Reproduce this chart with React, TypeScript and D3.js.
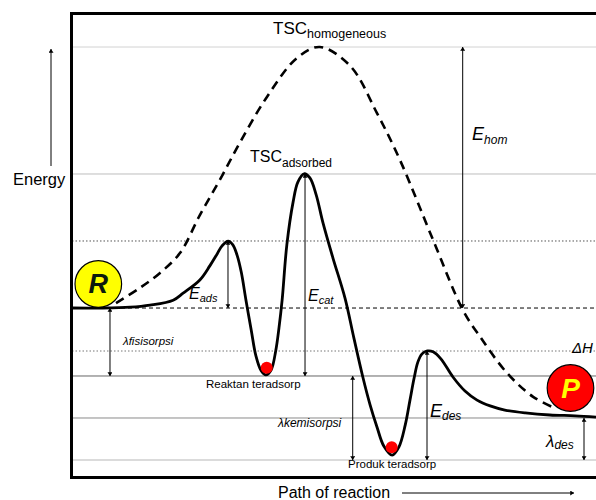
import React from 'react';
import * as d3 from 'd3';

// Reaction progress (0..100) and energy (0..100)
const solidProgress = [0, 5.3, 11.1, 14.9, 19.3, 21.2, 24.4, 26.3, 27.7, 28.6, 29.8, 30.7, 31.5, 32.3, 33.2, 34.2, 35.1, 36.1, 37.0, 38.0, 38.9, 39.5, 40.1, 41.0, 42.2, 43.1, 44.3, 45.4, 46.6, 47.9, 49.8, 52.1, 53.8, 55.5, 56.9, 58.2, 59.5, 61.1, 62.4, 63.6, 64.5, 65.3, 66.0, 66.8, 67.8, 68.9, 70.4, 72.7, 75.0, 77.3, 79.8, 82.6, 86.5, 91.2, 96.0, 100];
const solidEnergy = [36.8, 36.8, 37.0, 37.5, 38.7, 40.4, 43.6, 47.0, 49.9, 51.8, 53.0, 52.1, 49.6, 45.5, 38.7, 31.5, 25.2, 21.6, 20.6, 21.8, 26.6, 32.0, 38.7, 52.1, 62.5, 67.3, 69.3, 68.3, 64.2, 57.4, 48.9, 39.2, 29.5, 20.1, 13.3, 8.0, 3.4, 1.2, 3.2, 8.5, 14.5, 19.9, 23.7, 25.7, 26.4, 26.2, 24.5, 20.1, 16.7, 14.5, 13.1, 12.1, 11.4, 10.9, 10.7, 10.4];

const homProgress = [8.4, 13.0, 16.8, 20.6, 24.4, 28.2, 32.1, 37.2, 42.9, 47.3, 53.1, 58.2, 62.6, 68.9, 74.6, 77.9, 83.0, 88.0, 92.4];
const homEnergy = [38.0, 41.7, 45.3, 50.1, 59.3, 67.8, 77.0, 87.9, 97.3, 100, 95.4, 84.0, 72.6, 53.3, 36.3, 29.8, 21.1, 15.3, 12.4];

const levelNames = ['tscHom', 'tscAds', 'adsPeak', 'reactant', 'deltaH', 'reaktanAds', 'product', 'produkAds'];
const levelEnergy = [100, 69.25, 53.03, 36.8, 26.39, 20.34, 10.17, 0];

const arrowNames = ['Ehom', 'Eads', 'Ecat', 'lfis', 'lkem', 'Edes', 'ldes'];
const arrowProgress = [74.56, 29.77, 44.47, 7.25, 53.57, 67.75, 97.71];
const arrowFrom = [100, 53.03, 69.25, 36.8, 20.34, 26.39, 10.17];
const arrowTo = [36.8, 36.8, 20.34, 20.34, 0, 0, 0];

const ballNames = ['R', 'P', 'reaktan', 'produk'];
const ballProgress = [5.02, 95.13, 37.16, 61.01];
const ballEnergy = [42.62, 17.43, 22.35, 3.08];

const labelMain = ['TSC', 'TSC', 'E', 'E', 'E', 'E', 'λ', 'λfisisorpsi', 'λkemisorpsi', 'Reaktan teradsorp', 'Produk teradsorp', 'ΔH'];
const labelSub = ['homogeneous', 'adsorbed', 'hom', 'ads', 'cat', 'des', 'des', '', '', '', '', ''];
const labelProgress = [38.36, 33.97, 76.34, 22.33, 45.04, 68.32, 90.46, 9.73, 39.31, 25.57, 52.67, 95.42];
const labelEnergy = [103.03, 72.15, 77.48, 39.1, 38.38, 10.48, 3.22, 27.85, 8.06, 17.55, -1.94, 25.91];

const levelStyle: Record<string, { stroke: string; dash?: string; w: number }> = {
  tscHom: { stroke: '#d2d2d2', w: 1 },
  tscAds: { stroke: '#bdbdbd', w: 1 },
  adsPeak: { stroke: '#555', dash: '1.5,2', w: 1 },
  reactant: { stroke: '#000', dash: '4,3', w: 1 },
  deltaH: { stroke: '#777', dash: '1.5,2', w: 1 },
  reaktanAds: { stroke: '#666', w: 1 },
  product: { stroke: '#8a8a8a', w: 1 },
  produkAds: { stroke: '#cfcfcf', w: 1.5 },
};

const labelStyle = [
  { size: 17, sub: 12.5, dy: 4, italic: false },
  { size: 16, sub: 12, dy: 4.5, italic: false },
  { size: 18, sub: 12, dy: 3.5, italic: true },
  { size: 16, sub: 11, dy: 3, italic: true },
  { size: 16, sub: 11, dy: 3, italic: true },
  { size: 18, sub: 12, dy: 3.5, italic: true },
  { size: 17, sub: 12, dy: 2, italic: true },
  { size: 11.5, sub: 0, dy: 0, italic: true },
  { size: 12, sub: 0, dy: 0, italic: true },
  { size: 11.5, sub: 0, dy: 0, italic: false },
  { size: 11.5, sub: 0, dy: 0, italic: false },
  { size: 15, sub: 0, dy: 0, italic: true },
];

const W = 596;
const H = 500;
const FONT = '"Liberation Sans", Arial, sans-serif';

export default function App() {
  const left = 72;
  const right = 596;
  const x = d3.scaleLinear().domain([0, 100]).range([left, right]);
  const y = d3.scaleLinear().domain([0, 100]).range([460, 47]);

  const line = d3
    .line<[number, number]>()
    .x((d) => x(d[0]))
    .y((d) => y(d[1]))
    .curve(d3.curveCatmullRom.alpha(0.5));

  const solidPts = d3.zip(solidProgress, solidEnergy) as [number, number][];
  const homPts = d3.zip(homProgress, homEnergy) as [number, number][];

  const ballR = [23.3, 23.3, 6, 6];
  const ballFill = ['#ffff00', '#ff0000', '#ff0000', '#ff0000'];

  return (
    <svg
      width={W}
      height={H}
      style={{ position: 'absolute', left: 0, top: 0, background: '#fff' }}
      fontFamily={FONT}
    >
      <defs>
        <marker id="ah" viewBox="0 0 6 8" refX="6" refY="4" markerWidth="6" markerHeight="5" markerUnits="userSpaceOnUse" orient="auto-start-reverse">
          <path d="M0,0 L6,4 L0,8 z" fill="#000" />
        </marker>
        <marker id="ahBig" viewBox="0 0 6 8" refX="6" refY="4" markerWidth="6" markerHeight="5" markerUnits="userSpaceOnUse" orient="auto">
          <path d="M0,0 L6,4 L0,8 z" fill="#000" />
        </marker>
      </defs>
      <rect x={0} y={0} width={W} height={H} fill="#fff" />

      {/* level lines */}
      {levelNames.map((n, i) => {
        const s = levelStyle[n];
        return (
          <line
            key={n}
            x1={left}
            x2={right}
            y1={y(levelEnergy[i])}
            y2={y(levelEnergy[i])}
            stroke={s.stroke}
            strokeWidth={s.w}
            strokeDasharray={s.dash}
          />
        );
      })}

      {/* annotation arrows */}
      {arrowNames.map((n, i) => (
        <line
          key={n}
          x1={x(arrowProgress[i])}
          x2={x(arrowProgress[i])}
          y1={y(arrowFrom[i])}
          y2={y(arrowTo[i])}
          stroke="#000"
          strokeWidth={1}
          markerStart="url(#ah)"
          markerEnd="url(#ah)"
        />
      ))}

      {/* homogeneous pathway */}
      <path d={line(homPts) || ''} fill="none" stroke="#000" strokeWidth={2.6} strokeDasharray="9,6" />
      {/* catalysed pathway */}
      <path d={line(solidPts) || ''} fill="none" stroke="#000" strokeWidth={2.8} strokeLinejoin="round" />

      {/* balls */}
      {ballNames.map((n, i) => (
        <circle
          key={n}
          cx={x(ballProgress[i])}
          cy={y(ballEnergy[i])}
          r={ballR[i]}
          fill={ballFill[i]}
          stroke={i < 2 ? '#000' : 'none'}
          strokeWidth={1.2}
        />
      ))}
      <text x={x(ballProgress[0])} y={y(ballEnergy[0]) + 9} textAnchor="middle" fontSize={27} fontWeight="bold" fontStyle="italic" fill="#0d1a0d">R</text>
      <text x={x(ballProgress[1])} y={y(ballEnergy[1]) + 10} textAnchor="middle" fontSize={28} fontWeight="bold" fontStyle="italic" fill="#ffff00">P</text>

      {/* labels */}
      {labelMain.map((m, i) => {
        const st = labelStyle[i];
        return (
          <text
            key={i}
            x={x(labelProgress[i])}
            y={y(labelEnergy[i])}
            fontSize={st.size}
            fontStyle={st.italic ? 'italic' : 'normal'}
            fill="#000"
          >
            {m}
            {labelSub[i] ? (
              <tspan fontSize={st.sub} dy={st.dy}>
                {labelSub[i]}
              </tspan>
            ) : null}
          </text>
        );
      })}

      {/* frame */}
      <line x1={71.5} x2={71.5} y1={12} y2={479} stroke="#000" strokeWidth={3} />
      <line x1={70} x2={W} y1={13.5} y2={13.5} stroke="#000" strokeWidth={3} />
      <line x1={70} x2={W} y1={477.5} y2={477.5} stroke="#000" strokeWidth={3} />

      {/* axis titles */}
      <line x1={51} x2={51} y1={166} y2={49} stroke="#000" strokeWidth={1} markerEnd="url(#ah)" />
      <text x={13} y={185} fontSize={16.5} fill="#000">Energy</text>
      <text x={278} y={497.5} fontSize={16} fill="#000">Path of reaction</text>
      <line x1={402} x2={574} y1={493} y2={493} stroke="#000" strokeWidth={1} markerEnd="url(#ahBig)" />
    </svg>
  );
}
